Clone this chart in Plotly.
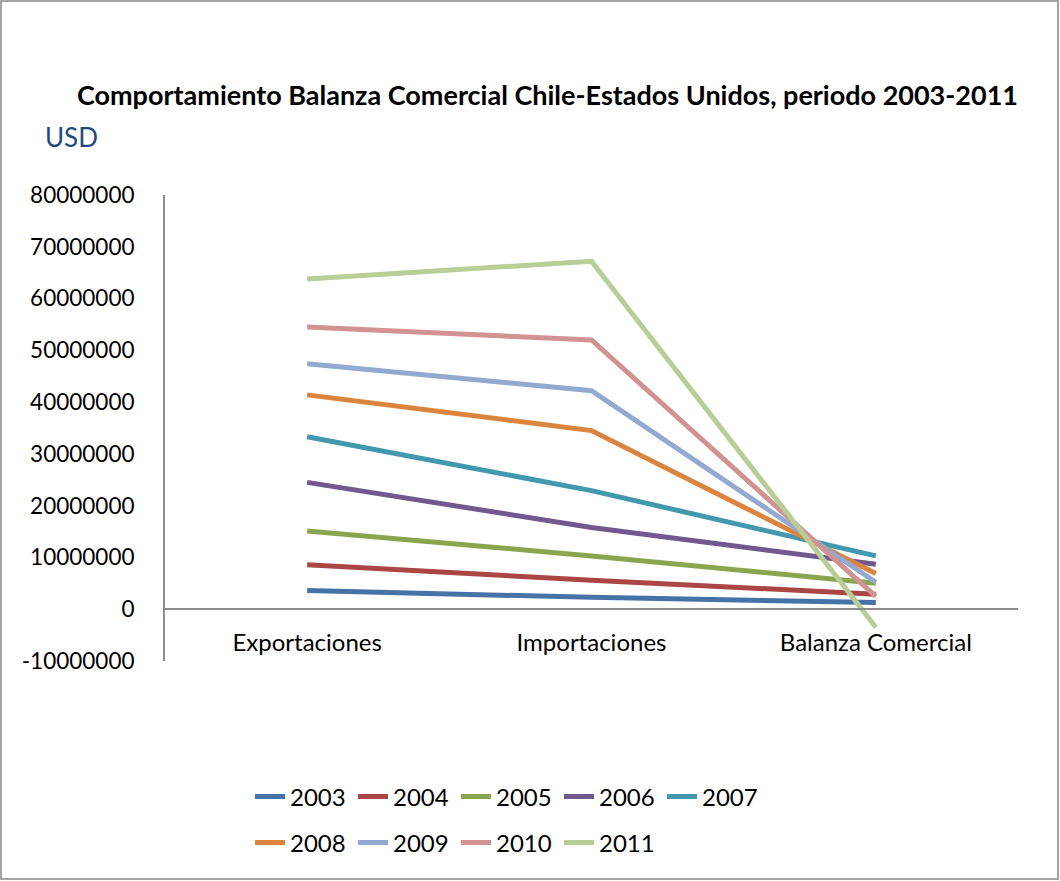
import plotly.graph_objects as go

# categories on the x axis
categorias = ["Exportaciones", "Importaciones", "Balanza Comercial"]

# values (USD, cumulative as drawn)
v2003 = [3600000, 2300000, 1300000]
v2004 = [8600000, 5600000, 2900000]
v2005 = [15100000, 10300000, 5000000]
v2006 = [24500000, 15800000, 8700000]
v2007 = [33300000, 22900000, 10300000]
v2008 = [41400000, 34500000, 6900000]
v2009 = [47400000, 42200000, 5200000]
v2010 = [54500000, 52000000, 2500000]
v2011 = [63800000, 67200000, -3500000]

anios = ["2003", "2004", "2005", "2006", "2007", "2008", "2009", "2010", "2011"]
series = [v2003, v2004, v2005, v2006, v2007, v2008, v2009, v2010, v2011]
colores = ["#4572A7", "#AA4643", "#89A54E", "#71588F", "#4198AF",
           "#DB843D", "#93A9CF", "#D19392", "#B9CD96"]

# y tick labels (Excel style, plain hyphen for the negative)
y_ticks = [-10000000, 0, 10000000, 20000000, 30000000, 40000000,
           50000000, 60000000, 70000000, 80000000]
y_tick_text = ["-10000000", "0", "10000000", "20000000", "30000000",
               "40000000", "50000000", "60000000", "70000000", "80000000"]

FONT = "Lato, 'Open Sans', sans-serif"

fig = go.Figure()
for i, (anio, vals, col) in enumerate(zip(anios, series, colores)):
    fig.add_trace(go.Scatter(
        x=categorias, y=vals, mode="lines", name=anio,
        line={"color": col, "width": 5},
        legend="legend" if i < 5 else "legend2",
    ))

# plot area in px: x 165..1018, y 195..661
L, R, T, B = 165, 1018, 195, 661
W, H = 1060, 881
pw, ph = R - L, B - T

def px_x(p):
    return (p - L) / pw

def px_y(p):
    return (B - p) / ph

legend_common = {
    "orientation": "h", "xanchor": "left", "yanchor": "middle",
    "font": {"family": FONT, "size": 24, "color": "black"},
    "bgcolor": "rgba(0,0,0,0)", "entrywidth": 58, "itemwidth": 30,
    "tracegroupgap": 0,
}

fig.update_layout(
    width=W, height=H,
    margin={"l": L, "r": W - R, "t": T, "b": H - B},
    paper_bgcolor="white", plot_bgcolor="white",
    font={"family": FONT, "color": "black"},
    title={"text": "<b>Comportamiento Balanza Comercial Chile-Estados Unidos, periodo 2003-2011</b>",
           "font": {"family": FONT, "size": 27, "color": "black"},
           "x": px_x(1018), "xanchor": "right", "xref": "paper",
           "y": 1 - 96 / H, "yanchor": "middle"},
    xaxis={"type": "category", "range": [-0.5, 2.5], "anchor": "free",
           "position": 10 / 90, "showline": True, "linecolor": "#8c8c8c",
           "linewidth": 2, "showgrid": False, "ticks": "",
           "tickfont": {"family": FONT, "size": 24, "color": "black"},
           "ticklabelstandoff": 12},
    yaxis={"range": [-10000000, 80000000], "tickmode": "array",
           "tickvals": y_ticks, "ticktext": y_tick_text,
           "showgrid": False, "zeroline": False,
           "showline": True, "linecolor": "#8c8c8c", "linewidth": 2,
           "ticks": "", "ticklabelstandoff": 24,
           "tickfont": {"family": FONT, "size": 22.5, "color": "black"}},
    legend={**legend_common, "x": px_x(250), "y": px_y(797)},
    legend2={**legend_common, "x": px_x(250), "y": px_y(843)},
    showlegend=True,
    annotations=[{"text": "USD", "xref": "paper", "yref": "paper",
                  "x": px_x(43), "y": px_y(137), "xanchor": "left",
                  "yanchor": "middle", "showarrow": False,
                  "font": {"family": FONT, "size": 26, "color": "#1F497D"}}],
    shapes=[{"type": "rect", "xref": "paper", "yref": "paper",
             "x0": px_x(1), "x1": px_x(1058), "y0": px_y(879), "y1": px_y(1),
             "line": {"color": "#868686", "width": 1.5}, "layer": "below"}],
)

# page body margin would shift the figure by 8px
fig.write_html("out.html", config={"displayModeBar": False},
               post_script="document.body.style.margin='0';")
